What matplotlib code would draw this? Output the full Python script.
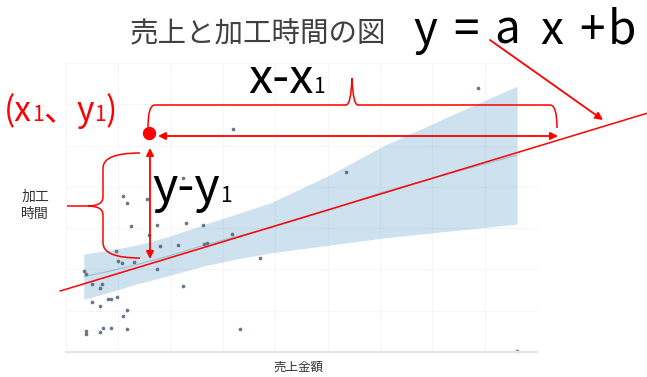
import matplotlib.pyplot as plt
from matplotlib.path import Path
from matplotlib.patches import PathPatch
import numpy as np

plt.rcParams['font.family'] = ['Noto Sans CJK JP', 'DejaVu Sans']

# 売上金額と加工時間
sales = [3.19, 5.35, 7.87, 8.62, 1.09, 1.17, 1.55, 2.24, 1.24, 1.74, 2.29, 2.62,
         1.59, 0.96, 1.80, 2.14, 2.64, 2.69, 3.17, 0.99, 1.07, 1.30, 1.74, 0.34,
         0.38, 0.50, 0.69, 0.65, 2.24, 3.71, 0.50, 0.65, 0.80, 0.86, 0.97, 1.17,
         1.09, 0.38, 0.38, 0.65, 0.71, 0.86, 1.17, 3.33]
hours = [5.40, 4.36, 6.39, 0.02, 3.78, 3.61, 3.71, 4.21, 3.05, 3.08, 3.12, 3.08,
         2.83, 2.45, 2.57, 2.59, 2.62, 2.64, 2.86, 2.20, 2.16, 2.18, 2.01, 1.96,
         1.89, 1.65, 1.65, 1.55, 1.60, 2.28, 1.21, 1.11, 1.28, 1.28, 1.33, 1.02,
         0.87, 0.51, 0.44, 0.48, 0.58, 0.58, 0.56, 0.56]

# 回帰直線の信頼区間
band_x = [0.34, 0.84, 1.36, 1.99, 2.62, 3.25, 3.90, 5.04, 6.06, 7.34, 8.62]
band_hi = [2.37, 2.47, 2.59, 2.81, 3.08, 3.34, 3.61, 4.29, 4.99, 5.72, 6.44]
band_lo = [1.28, 1.45, 1.65, 1.86, 2.08, 2.25, 2.40, 2.59, 2.76, 2.93, 3.10]

# 説明用の直線 y = ax + b
line_a = 0.384
line_b = 1.52
line_x = np.array([-0.11, 11.1])

RED = '#ff0000'

fig = plt.figure(figsize=(6.47, 3.77), dpi=100)
ax = fig.add_axes([66 / 647, 25 / 377, 471 / 647, 289 / 377])
ax.set_xlim(0, 9)
ax.set_ylim(0, 7)
ax.set_xticks(range(10))
ax.set_yticks(range(8))
ax.tick_params(length=0, labelbottom=False, labelleft=False)
ax.grid(color='#f6f6f6', lw=0.8)
ax.set_axisbelow(True)
for side in ['top', 'right', 'left']:
    ax.spines[side].set_visible(False)
ax.spines['bottom'].set_color('#e6e6e6')
ax.spines['bottom'].set_linewidth(1.6)

ax.fill_between(band_x, band_lo, band_hi, color='#1f77b4', alpha=0.22, lw=0)
mid = (np.array(band_lo) + np.array(band_hi)) / 2
ax.plot(band_x, mid, color='#5b7fa6', lw=0.8, alpha=0.4)
ax.scatter(sales, hours, s=7, color='#4c5f7a', alpha=0.85, lw=0, clip_on=False)
ax.plot(line_x, line_a * line_x + line_b, color=RED, lw=1.1, clip_on=False)

# 注記用のレイヤー（ピクセル座標）
ov = fig.add_axes([0, 0, 1, 1])
ov.set_xlim(0, 647)
ov.set_ylim(377, 0)
ov.axis('off')
ov.patch.set_alpha(0)

renderer = fig.canvas.get_renderer()


def text_run(x, y, parts, color='black'):
    for s, size in parts:
        t = ov.text(x, y, s, fontsize=size, color=color, ha='left', va='baseline')
        x += t.get_window_extent(renderer=renderer).width


ov.text(258, 42, '売上と加工時間の図', fontsize=20.5, color='#404040',
        ha='center', va='baseline')
for ch, cx in [('y', 425), ('=', 466), ('a', 507), ('x', 552), ('+', 592), ('b', 622)]:
    ov.text(cx, 44, ch, fontsize=33, ha='center', va='baseline')

text_run(248, 93, [('x-x', 35), ('1', 15)])
text_run(152, 202, [('y-y', 35), ('1', 15)])
text_run(4, 121, [('(x', 24), ('1', 15), ('、', 24), ('y', 24), ('1', 15), (')', 24)],
         color=RED)

ov.text(35, 205, '加工\n時間', fontsize=10, color='#333333', ha='center',
        va='center', linespacing=1.3)
ov.text(298, 367, '売上金額', fontsize=9, color='#333333', ha='center', va='center')

# (x1, y1) の点と矢印
ov.plot(149, 133, 'o', ms=8.6, color=RED)
arrow = dict(color=RED, lw=1.3, mutation_scale=11, shrinkA=0, shrinkB=0)
ov.annotate('', xy=(558, 136), xytext=(158, 136),
            arrowprops=dict(arrowstyle='<|-|>', **arrow))
ov.annotate('', xy=(150, 259), xytext=(150, 148),
            arrowprops=dict(arrowstyle='<|-|>', **arrow))
ov.annotate('', xy=(603, 120), xytext=(490, 40),
            arrowprops=dict(arrowstyle='-|>', **arrow))

# 波括弧
M, L, C = Path.MOVETO, Path.LINETO, Path.CURVE3
top_brace = Path(
    [(148, 127), (148, 105), (155, 105), (346, 105), (351, 105), (352, 78),
     (353, 105), (358, 105), (550, 105), (557, 105), (557, 128)],
    [M, C, C, L, C, C, C, C, L, C, C])
left_brace = Path(
    [(140, 153), (103, 153), (103, 168), (103, 197), (103, 206), (88, 206),
     (67, 206), (88, 206), (103, 206), (103, 215), (103, 243), (103, 258),
     (140, 258)],
    [M, C, C, L, C, C, L, M, C, C, L, C, C])
for p in (top_brace, left_brace):
    ov.add_patch(PathPatch(p, fill=False, edgecolor=RED, lw=1.1))

plt.savefig('out.png', dpi=100)
